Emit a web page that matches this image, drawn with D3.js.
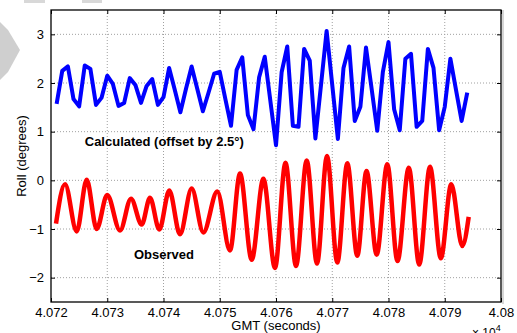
<!DOCTYPE html>
<html>
<head>
<meta charset="utf-8">
<script src="https://cdn.jsdelivr.net/npm/d3@7"></script>
<style>
  body { margin: 0; background: #fff; }
  svg { display: block; font-family: "Liberation Sans", Arial, sans-serif; }
  .tick text { font-size: 13px; fill: #000; }
</style>
</head>
<body>
<div id="chart"></div>
<script>
// calculated roll, sampled once a second (plotted with a +2.5 deg offset)
var calcTimes = [40721,40722,40723,40724,40725,40726,40727,40728,40729,40730,
  40731,40732,40733,40734,40735,40736,40737,40738,40739,40740,
  40741,40742,40743,40744,40745,40746,40747,40748,40749,40750,
  40751,40752,40753,40754,40755,40756,40757,40758,40759,40760,
  40761,40762,40763,40764,40765,40766,40767,40768,40769,40770,
  40771,40772,40773,40774,40775,40776,40777,40778,40779,40780,
  40781,40782,40783,40784,40785,40786,40787,40788,40789,40790,
  40791,40792,40793,40794];
var calcRoll = [-0.93,-0.25,-0.16,-0.83,-0.98,-0.14,-0.21,-0.95,-0.80,-0.35,
  -0.52,-0.97,-0.91,-0.40,-0.54,-0.91,-0.56,-0.42,-0.95,-0.79,
  -0.19,-0.64,-1.10,-0.62,-0.16,-0.62,-1.08,-0.70,-0.31,-0.27,
  -0.83,-1.38,-0.23,0.03,-1.16,-1.45,-0.38,0.04,-0.87,-1.78,
  -0.28,0.25,-1.38,-1.40,0.20,-0.04,-1.64,-0.54,0.57,-0.54,
  -1.65,-0.19,0.25,-1.28,-0.99,0.23,-0.62,-1.48,-0.27,0.34,
  -1.04,-1.47,0.00,0.10,-1.40,-1.28,0.20,-0.19,-1.47,-0.99,
  0.00,-0.64,-1.28,-0.70];
var calcOffset = 2.5;

// observed roll, turning points of the smooth record
var obsTimes = [40720.89,40722.49,40724.57,40726.35,40728.12,40729.99,40732.27,40734.22,
  40736.12,40737.60,40739.25,40741.03,40742.93,40745.01,40747.08,40749.56,
  40751.82,40753.60,40755.68,40757.76,40759.82,40761.69,40763.56,40765.46,
  40767.29,40769.07,40770.90,40772.68,40774.45,40776.09,40777.90,40779.78,
  40781.60,40783.61,40785.46,40787.38,40789.30,40791.16,40793.12,40794.26];
var obsRoll = [-0.89,-0.08,-1.05,0.01,-1.00,-0.30,-1.03,-0.38,
  -0.91,-0.36,-1.01,-0.21,-1.11,-0.17,-1.07,-0.23,
  -1.44,0.14,-1.63,0.03,-1.80,0.36,-1.76,0.41,
  -1.71,0.50,-1.69,0.35,-1.55,0.19,-1.53,0.33,
  -1.66,0.26,-1.73,0.28,-1.60,-0.08,-1.35,-0.75];

var xTickValues = [40720,40730,40740,40750,40760,40770,40780,40790,40800];
var xTickLabels = ["4.072","4.073","4.074","4.075","4.076","4.077","4.078","4.079","4.08"];
var yTickValues = [-2,-1,0,1,2,3];

var width = 517, height = 333;
var margin = {top: 10, right: 16, bottom: 31, left: 51};

var svg = d3.select("#chart").append("svg")
    .attr("width", width)
    .attr("height", height);

// faint scan marks in the corner of the original
svg.append("path")
    .attr("d", "M0,22 L8,30 L20,50 L8,72 L0,80 Z")
    .attr("fill", "#cfcfcf");
svg.append("rect").attr("x", 24).attr("y", 0).attr("width", 21).attr("height", 3).attr("fill", "#d8d8d8");
svg.append("rect").attr("x", 82).attr("y", 0).attr("width", 20).attr("height", 3).attr("fill", "#d8d8d8");

var x = d3.scaleLinear().domain([40720, 40800]).range([margin.left, width - margin.right]);
var y = d3.scaleLinear().domain([-2.5, 3.5]).range([height - margin.bottom, margin.top]);

var x0 = x.range()[0], x1 = x.range()[1], y0 = y.range()[0], y1 = y.range()[1];

// grid
svg.append("g").selectAll("line").data(xTickValues.slice(1, -1)).enter().append("line")
    .attr("x1", d => x(d)).attr("x2", d => x(d))
    .attr("y1", y1).attr("y2", y0)
    .attr("stroke", "#a0a0a0").attr("stroke-width", 1).attr("stroke-dasharray", "1,2");
svg.append("g").selectAll("line").data(yTickValues).enter().append("line")
    .attr("x1", x0).attr("x2", x1)
    .attr("y1", d => y(d)).attr("y2", d => y(d))
    .attr("stroke", "#a0a0a0").attr("stroke-width", 1).attr("stroke-dasharray", "1,2");

// axes, ticks pointing inward like matlab
var xAxis = d3.axisBottom(x).tickValues(xTickValues).tickSize(-4).tickPadding(6)
    .tickFormat((d, i) => xTickLabels[i]);
var yAxis = d3.axisLeft(y).tickValues(yTickValues).tickSize(-4).tickPadding(7)
    .tickFormat(d3.format("d"));

svg.append("g").attr("transform", "translate(0," + y0 + ")").call(xAxis)
    .call(g => g.select(".domain").remove());
svg.append("g").attr("transform", "translate(" + x0 + ",0)").call(yAxis)
    .call(g => g.select(".domain").remove());
svg.append("g").attr("transform", "translate(0," + y1 + ")")
    .call(d3.axisTop(x).tickValues(xTickValues).tickSize(-4).tickFormat(""))
    .call(g => g.select(".domain").remove());
svg.append("g").attr("transform", "translate(" + x1 + ",0)")
    .call(d3.axisRight(y).tickValues(yTickValues).tickSize(-4).tickFormat(""))
    .call(g => g.select(".domain").remove());

// data
var calcLine = d3.line()
    .x((d, i) => x(calcTimes[i]))
    .y(d => y(d + calcOffset));
svg.append("path")
    .datum(calcRoll)
    .attr("d", calcLine)
    .attr("fill", "none")
    .attr("stroke", "#0000ff")
    .attr("stroke-width", 4)
    .attr("stroke-linejoin", "round");

var obsLine = d3.line()
    .x((d, i) => x(obsTimes[i]))
    .y(d => y(d))
    .curve(d3.curveMonotoneX);
svg.append("path")
    .datum(obsRoll)
    .attr("d", obsLine)
    .attr("fill", "none")
    .attr("stroke", "#ff0000")
    .attr("stroke-width", 4.5)
    .attr("stroke-linejoin", "round");

// box
svg.append("rect")
    .attr("x", x0).attr("y", y1)
    .attr("width", x1 - x0).attr("height", y0 - y1)
    .attr("fill", "none").attr("stroke", "#000").attr("stroke-width", 1.3);
svg.append("line")
    .attr("x1", x1 + 2).attr("x2", x1 + 2).attr("y1", y1).attr("y2", y0 + 2)
    .attr("stroke", "#c8c8c8").attr("stroke-width", 1.5);

// annotations
svg.append("text")
    .attr("x", x(40726.0)).attr("y", y(0.70))
    .attr("font-size", "13px").attr("font-weight", "bold")
    .text("Calculated (offset by 2.5\u00b0)");
svg.append("text")
    .attr("x", x(40734.75)).attr("y", y(-1.62))
    .attr("font-size", "13px").attr("font-weight", "bold")
    .text("Observed");

// axis labels
svg.append("text")
    .attr("x", (x0 + x1) / 2).attr("y", 330)
    .attr("text-anchor", "middle").attr("font-size", "13px")
    .text("GMT (seconds)");
svg.append("text")
    .attr("transform", "translate(26," + ((y0 + y1) / 2) + ") rotate(-90)")
    .attr("text-anchor", "middle").attr("font-size", "13px")
    .text("Roll (degrees)");

var mult = svg.append("text").attr("x", 472).attr("y", 337).attr("font-size", "12px");
mult.append("tspan").text("\u00d7 10");
mult.append("tspan").attr("dy", -6).attr("font-size", "9px").text("4");
</script>
</body>
</html>
